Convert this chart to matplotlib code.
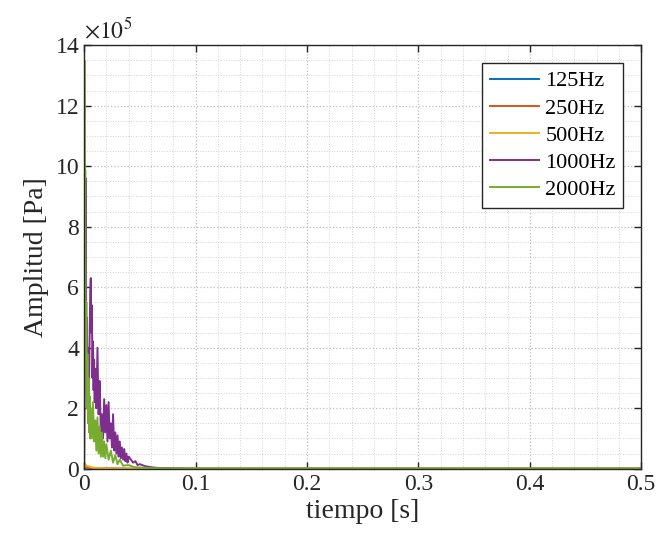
import numpy as np
import matplotlib
matplotlib.use("Agg")
import matplotlib.pyplot as plt
from matplotlib.ticker import MultipleLocator, FuncFormatter

# ====================== DATA (amplitude in units of 1e5 Pa) ======================
labels = ["125Hz", "250Hz", "500Hz", "1000Hz", "2000Hz"]
colors = ["#0072BD", "#D95319", "#EDB120", "#7E2F8E", "#77AC30"]

t_low = [0.0, 0.001, 0.002, 0.004, 0.006, 0.01, 0.02, 0.04, 0.5]
a_125 = [0.0, 0.05, 0.04, 0.03, 0.02, 0.01, 0.005, 0.0, 0.0]
a_250 = [0.0, 0.08, 0.06, 0.05, 0.03, 0.02, 0.01, 0.0, 0.0]
a_500 = [0.0, 0.15, 0.10, 0.08, 0.05, 0.03, 0.01, 0.0, 0.0]

t_1000 = [0.0, 0.0005, 0.0010, 0.0015, 0.0020, 0.0025, 0.0030, 0.0035, 0.0040,
          0.0045, 0.0050, 0.0055, 0.0060, 0.0065, 0.0070, 0.0075, 0.0080, 0.0085,
          0.0090, 0.0095, 0.0100, 0.0110, 0.0120, 0.0130, 0.0140, 0.0150, 0.0160,
          0.0170, 0.0180, 0.0190, 0.0200, 0.0210, 0.0220, 0.0230, 0.0240, 0.0250,
          0.0260, 0.0270, 0.0280, 0.0290, 0.0300, 0.0310, 0.0320, 0.0330, 0.0340,
          0.0350, 0.0360, 0.0370, 0.0380, 0.0390, 0.0400, 0.0420, 0.0440, 0.0460,
          0.0480, 0.0500, 0.0550, 0.0600, 0.0650, 0.0700, 0.0800, 0.0900, 0.1000,
          0.5]
a_1000 = [0.0, 2.5, 5.5, 9.6, 3.5, 5.0, 2.5, 4.0, 2.0,
          3.0, 4.5, 5.8, 6.3, 4.5, 5.4, 3.0, 4.2, 2.6,
          3.6, 2.2, 3.3, 2.0, 4.0, 1.8, 2.9, 1.2, 1.8,
          1.0, 2.3, 1.2, 2.1, 0.9, 2.2, 1.0, 1.5, 0.7,
          1.8, 0.6, 1.2, 0.5, 1.1, 0.4, 0.9, 0.35, 0.7,
          0.3, 0.65, 0.25, 0.5, 0.2, 0.4, 0.3, 0.2, 0.25,
          0.12, 0.15, 0.08, 0.05, 0.03, 0.02, 0.01, 0.005, 0.0,
          0.0]

t_2000 = [0.0, 0.0003, 0.0006, 0.0010, 0.0015, 0.0020, 0.0025, 0.0030, 0.0035,
          0.0040, 0.0045, 0.0050, 0.0055, 0.0060, 0.0070, 0.0080, 0.0090, 0.0100,
          0.0110, 0.0120, 0.0130, 0.0140, 0.0150, 0.0160, 0.0170, 0.0180, 0.0190,
          0.0200, 0.0220, 0.0240, 0.0260, 0.0280, 0.0300, 0.0320, 0.0350, 0.0400,
          0.0450, 0.0500, 0.0600, 0.0800, 0.5]
a_2000 = [0.0, 13.5, 6.0, 9.9, 3.0, 5.5, 2.0, 3.8, 1.5,
          3.0, 1.2, 2.4, 1.0, 2.0, 1.0, 2.2, 0.9, 1.6,
          0.6, 1.7, 0.5, 1.4, 0.4, 1.2, 0.4, 0.9, 0.35,
          0.8, 0.3, 0.6, 0.2, 0.45, 0.15, 0.3, 0.1, 0.12,
          0.05, 0.04, 0.02, 0.01, 0.01]

SCALE = 1e5

series = [
    (t_low, a_125),
    (t_low, a_250),
    (t_low, a_500),
    (t_1000, a_1000),
    (t_2000, a_2000),
]

# ====================== STYLE ======================
plt.rcParams["font.family"] = ["Liberation Serif", "DejaVu Serif"]
plt.rcParams["mathtext.fontset"] = "stix"

fig = plt.figure(figsize=(6.57, 5.45), dpi=100)
ax = fig.add_axes([0.128, 0.140, 0.848, 0.777])

for (t, a), lab, col in zip(series, labels, colors):
    ax.plot(t, np.array(a) * SCALE, color=col, lw=1.4, label=lab)

ax.set_xlim(0, 0.5)
ax.set_ylim(0, 14 * SCALE)
ax.xaxis.set_major_locator(MultipleLocator(0.1))
ax.xaxis.set_minor_locator(MultipleLocator(0.02))
ax.yaxis.set_major_locator(MultipleLocator(2 * SCALE))
ax.yaxis.set_minor_locator(MultipleLocator(0.5 * SCALE))
ax.xaxis.set_major_formatter(FuncFormatter(lambda v, p: "0" if v == 0 else f"{v:g}"))
ax.yaxis.set_major_formatter(FuncFormatter(lambda v, p: f"{v / SCALE:g}"))

ax.tick_params(which="major", direction="in", top=True, right=True,
               length=5, width=1, labelsize=17, colors="#262626")
ax.tick_params(which="minor", length=0)
ax.grid(True, which="major", ls=":", lw=0.9, color="#8c8c8c", alpha=0.55)
ax.grid(True, which="minor", ls=":", lw=0.7, color="#b0b0b0", alpha=0.55)
for s in ax.spines.values():
    s.set_color("#262626")
    s.set_linewidth(1.0)

ax.text(0.0, 1.006, r"$\times10^{5}$", transform=ax.transAxes,
        fontsize=17, ha="left", va="bottom", color="#262626")

ax.set_xlabel("tiempo [s]", fontsize=20, color="#262626", labelpad=3)
ax.set_ylabel("Amplitud [Pa]", fontsize=20, color="#262626", labelpad=5)

leg = ax.legend(loc="upper right", fontsize=16, fancybox=False, framealpha=1,
                edgecolor="#262626", handlelength=2.2, borderaxespad=0.8,
                labelspacing=0.3, handletextpad=0.3, borderpad=0.35)
leg.get_frame().set_linewidth(1.0)

fig.savefig("out.png", dpi=100)
